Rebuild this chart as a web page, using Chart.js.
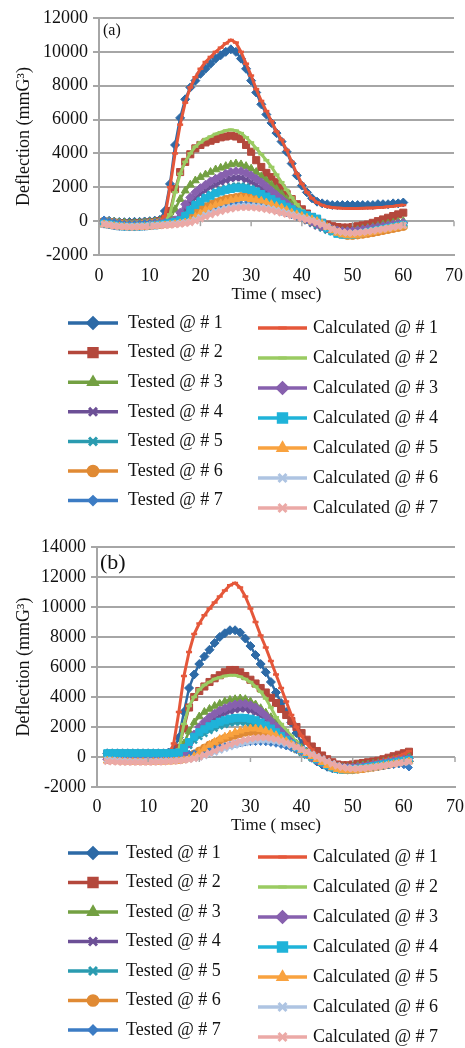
<!DOCTYPE html>
<html>
<head>
<meta charset="utf-8">
<script src="https://cdn.jsdelivr.net/npm/chart.js@4.4.1/dist/chart.umd.min.js"></script>
<style>
  body { margin: 0; background: #fff; }
  canvas { display: block; }
</style>
</head>
<body>
<canvas id="chartA" width="465" height="524"></canvas>
<canvas id="chartB" width="465" height="524"></canvas>
<script>
// time axis (msec)
const timeA = [1,2,3,4,5,6,7,8,9,10,11,12,13,14,15,16,17,18,19,20,21,22,23,24,25,26,27,28,29,30,
  31,32,33,34,35,36,37,38,39,40,41,42,43,44,45,46,47,48,49,50,51,52,53,54,55,56,57,58,59,60];
const timeB = [2,3,4,5,6,7,8,9,10,11,12,13,14,15,16,17,18,19,20,21,22,23,24,25,26,27,28,29,30,31,
  32,33,34,35,36,37,38,39,40,41,42,43,44,45,46,47,48,49,50,51,52,53,54,55,56,57,58,59,60,61];
const xTicks = [0, 10, 20, 30, 40, 50, 60, 70];
const yTicksA = [-2000, 0, 2000, 4000, 6000, 8000, 10000, 12000];
const yTicksB = [-2000, 0, 2000, 4000, 6000, 8000, 10000, 12000, 14000];

const seriesNames = ['Tested @ # 1', 'Tested @ # 2', 'Tested @ # 3', 'Tested @ # 4', 'Tested @ # 5', 'Tested @ # 6', 'Tested @ # 7',
  'Calculated @ # 1', 'Calculated @ # 2', 'Calculated @ # 3', 'Calculated @ # 4', 'Calculated @ # 5', 'Calculated @ # 6', 'Calculated @ # 7'];

// (a)
const testedA1 = [0,20,-30,-50,-60,-50,-40,-40,-20,0,30,80, 600,2200,4500,6100,7200,7900,8300,8700,
  9000,9300,9600,9800,10000,10150,10000,9600,9000,8300, 7600,6900,6300,5800,5200,4700,4100,3400,2700,2100,
  1700,1350,1150,1050,1000,950,950,950,950,950, 950,950,950,950,1000,1000,1000,1050,1050,1100];
const testedA2 = [-50,-80,-100,-120,-150,-150,-150,-120,-100,-80,-50,0,100, 600,1900,2900,3500,3950,4300,4500,
  4650,4750,4850,4950,5000,5050,5000,4850,4500,4100, 3600,3200,2850,2600,2300,1950,1600,1300,1000,700,
  450,250,80,-100,-200,-300,-350,-380,-380,-350, -300,-250,-200,-100,0,100,200,300,400,500];
const testedA3 = [0,-20,-50,-80,-100,-120,-120,-100,-80,-60,-40,0,50,150, 700,1300,1800,2150,2400,2600,
  2750,2900,3050,3150,3250,3350,3400,3350,3250,3100, 2900,2650,2400,2150,1900,1600,1300,1000,700,450,
  250,50,-100,-250,-400,-500,-550,-580,-580,-550, -500,-450,-400,-350,-280,-200,-150,-100,-50,0];
const testedA4 = [0,-30,-60,-100,-120,-140,-140,-120,-100,-80,-50,-20,0,30,100, 300,700,1050,1350,1600,
  1800,2000,2150,2300,2400,2500,2550,2550,2450,2300, 2150,1950,1750,1500,1250,1000,800,550,350,150,
  0,-150,-300,-420,-520,-600,-650,-680,-680,-650, -600,-550,-500,-450,-400,-350,-300,-250,-200,-150];
const testedA5 = [0,-50,-80,-120,-150,-150,-150,-130,-100,-80,-50,-30,0,20,50,150, 450,800,1050,1250,
  1450,1600,1750,1850,1950,2050,2100,2100,2050,1950, 1800,1650,1500,1300,1100,900,700,500,350,200,
  50,-100,-250,-400,-550,-650,-720,-750,-750,-720, -680,-620,-560,-500,-440,-380,-320,-260,-200,-150];
const testedA6 = [0,-50,-100,-150,-180,-200,-200,-180,-150,-120,-100,-80,-50,-30,0,30,80, 250,500,700,
  850,1000,1100,1200,1300,1350,1400,1450,1450,1400, 1350,1250,1150,1050,900,750,600,450,300,200,
  100,0,-100,-250,-400,-550,-680,-780,-850,-850, -820,-780,-730,-680,-620,-560,-500,-440,-380,-320];
const testedA7 = [100,0,-50,-100,-150,-150,-150,-130,-110,-90,-70,-50,-30,-10,0,20,50,100, 200,350,
  500,620,730,830,900,950,1000,1020,1020,1000, 950,900,820,740,650,550,450,350,250,150,
  50,-50,-150,-280,-420,-550,-650,-720,-760,-760, -740,-700,-650,-600,-540,-480,-420,-360,-300,-250];
const calcA1 = [-100,-150,-200,-200,-200,-200,-200,-180,-150,-120,-80,-20, 300,2000,4000,5700,7000,7900,8500,9000,
  9400,9700,10000,10250,10500,10700,10550,10000,9300,8600, 7800,7100,6500,5900,5300,4800,4200,3500,2800,2200,
  1700,1350,1100,950,850,800,780,760,750,750, 750,760,770,780,800,820,850,880,920,950];
const calcA2 = [-150,-200,-250,-280,-300,-300,-300,-280,-250,-200,-150,-100,-50, 400,1700,2800,3500,4000,4400,4650,
  4850,5000,5150,5250,5350,5400,5350,5200,4950,4650, 4300,3950,3600,3200,2750,2300,1850,1400,1000,650,
  400,200,0,-200,-350,-450,-500,-520,-520,-500, -470,-440,-400,-350,-300,-250,-200,-150,-100,-50];
const calcA3 = [-150,-200,-250,-280,-300,-320,-320,-300,-280,-250,-200,-150,-100,-50,50, 500,1000,1400,1700,1950,
  2150,2350,2500,2650,2800,2900,2950,2950,2850,2700, 2500,2300,2050,1800,1550,1300,1050,800,550,350,
  150,0,-150,-300,-420,-500,-560,-600,-600,-580, -550,-500,-450,-400,-350,-300,-250,-200,-150,-100];
const calcA4 = [-150,-200,-250,-300,-320,-330,-330,-320,-300,-280,-250,-200,-150,-100,-50,50, 300,650,950,1150,
  1350,1500,1650,1750,1850,1900,1950,1950,1900,1850, 1750,1600,1450,1300,1150,1000,850,700,550,450,
  350,250,150,-100,-400,-600,-750,-800,-820,-800, -760,-700,-640,-580,-520,-460,-400,-340,-280,-220];
const calcA5 = [-200,-250,-300,-330,-350,-370,-370,-360,-350,-330,-300,-280,-250,-220,-180,-130,-80, 50,250,450,
  650,800,950,1050,1150,1250,1300,1350,1350,1300, 1250,1200,1100,1000,900,800,650,500,400,300,
  200,100,0,-150,-350,-550,-700,-800,-850,-850, -820,-780,-720,-660,-600,-540,-480,-420,-360,-300];
const calcA6 = [-150,-200,-250,-280,-300,-300,-300,-290,-280,-260,-240,-220,-200,-180,-150,-120,-80,-30, 80,220,
  360,480,590,680,760,820,870,900,910,900, 880,840,780,720,650,570,490,400,310,220,
  130,40,-60,-180,-320,-460,-580,-660,-700,-700, -680,-640,-600,-550,-500,-450,-400,-350,-300,-250];
const calcA7 = [-200,-250,-300,-330,-350,-360,-360,-350,-340,-320,-300,-280,-260,-240,-210,-180,-140,-90, 0,120,
  250,370,480,570,650,720,770,800,810,800, 780,740,690,630,560,480,400,320,240,160,
  80,0,-100,-220,-350,-480,-580,-650,-690,-700, -690,-660,-620,-580,-530,-480,-420,-360,-300,-240];

// (b)
const testedB1 = [250,250,250,250,250,250,250,250,250,250,250,250,300, 500,1300,3000,4600,5500,6200,
  6700,7150,7600,8000,8250,8450,8450,8300,7900,7400, 6800,6200,5650,5000,4300,3600,3000,2300,1600,900,
  350,-50,-300,-500,-650,-750,-800,-800,-800,-780, -750,-720,-680,-650,-600,-550,-500,-450,-400,-350,-300];
const testedB2 = [200,200,200,200,200,200,200,200,200,200,200,200,200,250, 600,1900,3300,4000,4400,
  4700,5000,5250,5450,5650,5800,5800,5650,5400,5150, 4900,4600,4300,3950,3600,3200,2800,2400,2000,1600,
  1150,700,400,100,-150,-350,-500,-550,-550,-500, -450,-400,-350,-300,-250,-150,-50,50,150,250,350];
const testedB3 = [200,200,200,200,200,200,200,200,200,200,200,200,200,220,300, 900,1700,2300,2700,
  3000,3200,3400,3550,3700,3800,3850,3900,3850,3700, 3500,3250,2950,2650,2300,1950,1600,1250,900,600,
  300,50,-150,-350,-500,-600,-650,-680,-680,-650, -600,-550,-500,-450,-400,-330,-260,-190,-120,-50,50];
const testedB4 = [200,200,200,200,200,200,200,200,200,200,200,200,200,200,220, 350,800,1300,1700,
  2000,2300,2550,2750,2900,3050,3150,3200,3200,3100, 2950,2750,2500,2200,1900,1550,1250,950,650,400,
  150,-50,-250,-400,-550,-650,-720,-750,-750,-720, -680,-630,-580,-520,-460,-400,-340,-280,-220,-160,-100];
const testedB5 = [200,200,200,200,200,200,200,200,200,200,200,200,200,200,220, 400,750,1100,1350,
  1550,1750,1900,2050,2150,2250,2300,2320,2300,2250, 2150,2000,1850,1650,1450,1200,950,700,480,280,
  100,-80,-250,-420,-580,-700,-780,-820,-820,-800, -760,-720,-670,-620,-560,-500,-440,-380,-320,-260,-200];
const testedB6 = [0,-20,-50,-80,-100,-100,-100,-100,-100,-100,-100,-80,-60,-40,-20, 0,50,200,400,
  600,800,950,1100,1250,1350,1450,1550,1650,1700, 1700,1650,1550,1450,1300,1150,950,750,550,380,
  200,20,-150,-330,-500,-650,-760,-830,-860,-850, -820,-780,-730,-680,-620,-560,-500,-440,-380,-320,-260];
const testedB7 = [200,200,200,200,200,200,200,200,200,200,200,200,200,200,200, 200,220,250,300,
  380,460,550,640,720,800,860,920,960,990, 1000,1000,980,940,880,800,700,580,450,320,
  180,40,-100,-250,-400,-530,-640,-720,-760,-780, -770,-750,-720,-690,-650,-610,-570,-530,-500,-550,-700];
const calcB1 = [-100,-100,-100,-100,-100,-100,-100,-100,-100,-100,-80,-50,100, 900,3000,5400,7000,8200,8900,
  9450,9900,10300,10700,11100,11450,11600,11300,10700,9900, 9000,8100,7300,6400,5500,4600,3700,2800,2000,1400,
  900,500,150,-100,-300,-450,-550,-600,-600,-580, -550,-500,-450,-380,-300,-220,-140,-50,50,200,400];
const calcB2 = [-100,-100,-100,-100,-100,-100,-100,-100,-100,-100,-100,-80,-50,0, 500,2200,3400,4000,4500,
  4800,5000,5200,5300,5400,5450,5450,5350,5200,5000, 4700,4350,3900,3300,2650,2200,1800,1400,1000,650,
  350,100,-100,-300,-450,-550,-600,-620,-620,-600, -570,-530,-480,-420,-360,-300,-240,-180,-120,-60,0];
const calcB3 = [-150,-150,-150,-150,-150,-150,-150,-150,-150,-150,-150,-150,-140,-120,-50, 300,900,1500,2000,
  2350,2650,2900,3100,3250,3400,3500,3550,3550,3450, 3300,3050,2750,2400,2050,1700,1350,1000,700,450,
  200,0,-200,-380,-520,-620,-680,-720,-720,-700, -670,-630,-580,-520,-460,-400,-340,-280,-220,-160,-100];
const calcB4 = [250,250,250,250,250,250,250,250,250,250,250,250,250,260,300, 600,1000,1350,1650,
  1850,2050,2200,2350,2450,2550,2600,2620,2600,2550, 2450,2300,2100,1900,1650,1400,1150,900,650,450,
  250,50,-150,-350,-550,-700,-800,-850,-850,-820, -780,-730,-680,-620,-560,-500,-440,-380,-320,-260,-200];
const calcB5 = [-250,-280,-300,-320,-330,-340,-340,-340,-340,-340,-340,-330,-320,-300,-280, -220,-120,50,300,
  550,800,1000,1200,1350,1500,1650,1750,1850,1900, 1900,1850,1750,1600,1450,1250,1050,850,650,450,
  250,50,-150,-350,-550,-700,-820,-900,-920,-900, -870,-830,-780,-720,-660,-600,-540,-480,-420,-360,-300];
const calcB6 = [-200,-220,-250,-270,-280,-290,-290,-290,-290,-290,-280,-270,-260,-250,-230, -200,-160,-100,-20,
  80,200,320,450,570,680,780,870,950,1010, 1060,1090,1100,1080,1030,960,870,760,630,490,
  340,190,40,-120,-280,-430,-560,-660,-720,-750, -750,-730,-700,-660,-620,-570,-520,-470,-420,-370,-320];
const calcB7 = [-300,-320,-340,-350,-360,-360,-360,-360,-360,-350,-340,-330,-310,-290,-260, -220,-170,-100,0,
  130,270,420,560,700,830,950,1060,1150,1220, 1270,1300,1290,1250,1180,1080,960,820,660,500,
  330,160,0,-160,-320,-470,-600,-700,-760,-790, -790,-770,-740,-700,-650,-600,-540,-480,-420,-360,-300];

// marker/line look per series (Excel-like)
const seriesStyle = [
  { color: '#2d6aa6', shape: 'rectRot', r: 4.5, lw: 2.5 },
  { color: '#b4483c', shape: 'rect', r: 5, lw: 2.5 },
  { color: '#73a042', shape: 'triangle', r: 4.5, lw: 2.5 },
  { color: '#6c4f96', shape: 'crossRot', r: 4, lw: 2.5 },
  { color: '#2a9bb0', shape: 'crossRot', r: 4, lw: 2.5 },
  { color: '#e08a34', shape: 'circle', r: 4, lw: 2.5 },
  { color: '#3c7cc4', shape: 'rectRot', r: 3.5, lw: 2.5 },
  { color: '#e5573a', shape: 'line', r: 3, lw: 3 },
  { color: '#9acb62', shape: 'line', r: 3, lw: 3 },
  { color: '#8760ae', shape: 'rectRot', r: 4.5, lw: 2.5 },
  { color: '#1fb3d9', shape: 'rect', r: 5, lw: 2.5 },
  { color: '#f9a23f', shape: 'triangle', r: 4.5, lw: 2.5 },
  { color: '#aec4e2', shape: 'crossRot', r: 4, lw: 2.5 },
  { color: '#eba9a6', shape: 'crossRot', r: 4, lw: 2.5 }
];

Chart.defaults.font.family = '"Liberation Serif", "Times New Roman", serif';
Chart.defaults.color = '#111';

function buildSets(time, values) {
  return values.map((vals, i) => {
    const st = seriesStyle[i];
    return {
      label: seriesNames[i],
      data: vals.map((v, k) => ({ x: time[k], y: v })),
      borderColor: st.color,
      backgroundColor: st.color,
      pointBackgroundColor: st.color,
      borderWidth: st.lw,
      pointStyle: st.shape,
      pointRadius: st.r,
      pointBorderWidth: st.shape.indexOf('cross') === 0 || st.shape === 'line' ? 2.5 : 1,
      tension: 0,
      order: 13 - i
    };
  });
}

// two-column legend + panel tag + zero-line ticks
const paperLegend = {
  id: 'paperLegend',
  afterDraw(chart, args, opts) {
    const ctx = chart.ctx;
    const xs = chart.scales.x, ys = chart.scales.y;
    ctx.save();
    const y0 = ys.getPixelForValue(0);
    ctx.strokeStyle = '#a6a6a6';
    ctx.lineWidth = 1.5;
    xTicks.forEach(t => {
      const px = xs.getPixelForValue(t);
      ctx.beginPath(); ctx.moveTo(px, y0); ctx.lineTo(px, y0 + 5); ctx.stroke();
    });
    ctx.fillStyle = '#111';
    ctx.textBaseline = 'middle';
    ctx.textAlign = 'left';
    ctx.font = opts.tagFont;
    ctx.fillText(opts.tag, opts.tagX, opts.tagY);

    ctx.font = '18px "Liberation Serif"';
    chart.data.datasets.forEach((ds, i) => {
      const col = i < 7 ? opts.left : opts.right;
      const y = col.y + (i % 7) * col.step;
      ctx.strokeStyle = ds.borderColor;
      ctx.lineWidth = 3.5;
      ctx.beginPath(); ctx.moveTo(col.x1, y); ctx.lineTo(col.x2, y); ctx.stroke();
      ctx.fillStyle = ds.borderColor;
      ctx.lineWidth = ds.pointBorderWidth + 0.5;
      Chart.helpers.drawPoint(ctx, { pointStyle: ds.pointStyle, radius: ds.pointRadius * 1.4, borderWidth: ds.pointBorderWidth + 0.5, rotation: 0 }, (col.x1 + col.x2) / 2, y);
      ctx.fillStyle = '#111';
      ctx.fillText(ds.label, col.tx, y);
    });
    ctx.restore();
  }
};

function makeChart(id, time, values, yTicks, cfg) {
  return new Chart(document.getElementById(id), {
    type: 'line',
    data: { datasets: buildSets(time, values) },
    options: {
      responsive: false,
      animation: false,
      layout: { padding: { left: 0, right: 8, top: cfg.top, bottom: cfg.bottom } },
      plugins: {
        legend: { display: false },
        tooltip: { enabled: false },
        paperLegend: cfg.legend
      },
      scales: {
        x: {
          type: 'linear',
          min: 0, max: 70,
          afterBuildTicks: s => { s.ticks = xTicks.map(v => ({ value: v })); },
          afterFit: s => { s.height = 50; },
          grid: { display: false },
          border: { display: true, color: '#a6a6a6', width: 2 },
          ticks: { font: { size: 18 }, padding: cfg.xPad, color: '#111', maxRotation: 0 },
          title: { display: true, text: 'Time ( msec)', font: { size: 17 }, padding: { top: 0, bottom: cfg.xTitlePad }, color: '#111' }
        },
        y: {
          min: yTicks[0], max: yTicks[yTicks.length - 1],
          afterBuildTicks: s => { s.ticks = yTicks.map(v => ({ value: v })); },
          afterFit: s => { s.width = cfg.yWidth; },
          grid: { color: '#a6a6a6', lineWidth: 2, tickLength: 6, drawTicks: true },
          border: { display: true, color: '#a6a6a6', width: 2 },
          ticks: { font: { size: 18 }, padding: 5, color: '#111', callback: v => String(v) },
          title: { display: true, text: 'Deflection (mmG³)', font: { size: 18 }, padding: { top: 13, bottom: 0 }, color: '#111' }
        }
      }
    },
    plugins: [paperLegend]
  });
}

makeChart('chartA', timeA,
  [testedA1, testedA2, testedA3, testedA4, testedA5, testedA6, testedA7, calcA1, calcA2, calcA3, calcA4, calcA5, calcA6, calcA7],
  yTicksA,
  {
    top: 18, bottom: 219, yWidth: 99, xPad: 2, xTitlePad: 0,
    legend: {
      tag: '(a)', tagFont: '16px "Liberation Serif"', tagX: 103, tagY: 31,
      left: { x1: 68, x2: 118, tx: 128, y: 323, step: 29.6 },
      right: { x1: 258, x2: 307, tx: 313, y: 328, step: 30 }
    }
  });

makeChart('chartB', timeB,
  [testedB1, testedB2, testedB3, testedB4, testedB5, testedB6, testedB7, calcB1, calcB2, calcB3, calcB4, calcB5, calcB6, calcB7],
  yTicksB,
  {
    top: 23, bottom: 211, yWidth: 97, xPad: 1, xTitlePad: 1,
    legend: {
      tag: '(b)', tagFont: '22px "Liberation Serif"', tagX: 100, tagY: 39,
      left: { x1: 68, x2: 118, tx: 126, y: 329, step: 29.5 },
      right: { x1: 258, x2: 307, tx: 313, y: 333, step: 30 }
    }
  });
</script>
</body>
</html>
